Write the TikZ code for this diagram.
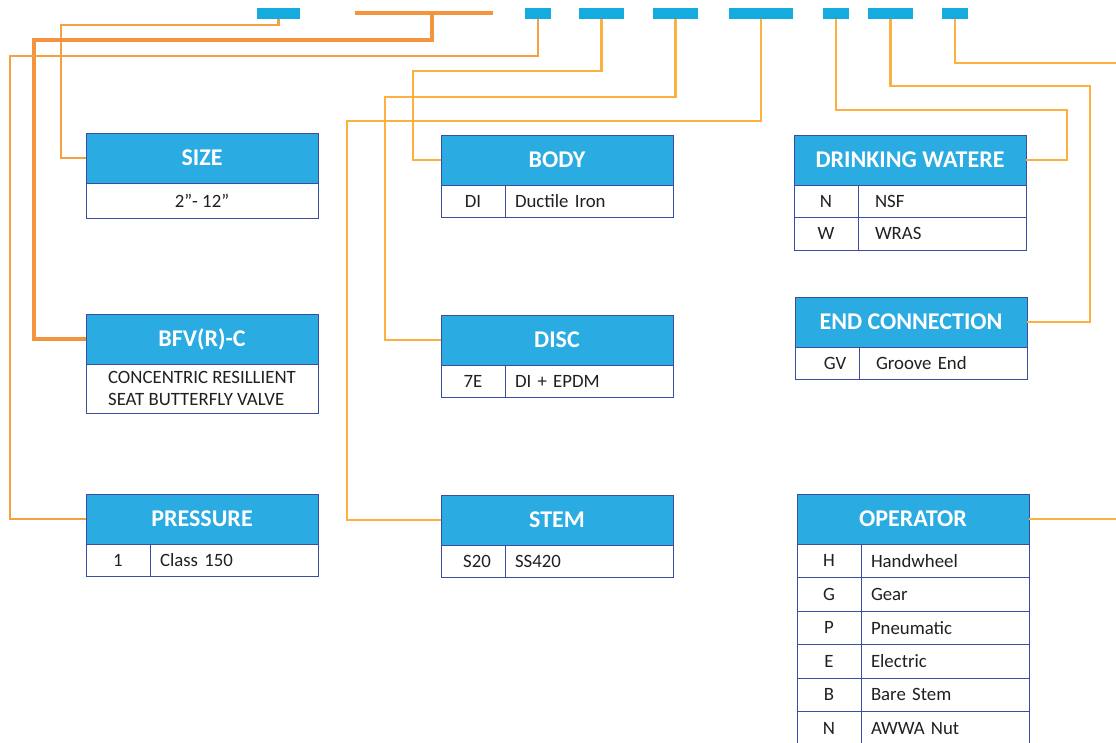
\documentclass[tikz,border=0pt]{standalone}
\usepackage{fontspec}
\setmainfont{Carlito}
\usetikzlibrary{positioning}

\definecolor{hdrblue}{HTML}{2AABE2}
\definecolor{barblue}{HTML}{16ABDF}
\definecolor{boxnavy}{HTML}{3A4D9E}
\definecolor{leadlight}{HTML}{FBB040}
\definecolor{leaddark}{HTML}{F5A142}
\definecolor{leadthick}{HTML}{F3943E}
\definecolor{celltext}{HTML}{231F20}

\tikzset{
  hdr/.style={draw=boxnavy, line width=0.9pt, fill=hdrblue, text=white,
    font=\fontsize{24}{28}\selectfont\bfseries, outer sep=0pt,
    minimum width=232pt, minimum height=50pt, inner sep=0pt, anchor=north west},
  cell/.style={draw=boxnavy, line width=0.9pt, fill=white, text=celltext,
    font=\fontsize{18.8}{22}\selectfont, outer sep=0pt,
    minimum height=33pt, inner sep=0pt, anchor=north west},
  code/.style={cell, minimum width=64pt},
  desc/.style={cell, text width=148pt, inner xsep=10pt, align=left},
  descwide/.style={cell, text width=134pt, inner xsep=17pt, align=left},
  bar/.style={fill=barblue, minimum height=11pt, inner sep=0pt},
  lead/.style={leadlight, line width=2.4pt},
  leadleft/.style={leaddark, line width=2.4pt},
  leadbold/.style={leadthick, line width=4pt},
}

\begin{document}
\begin{tikzpicture}[x=1pt,y=-1pt]
  \useasboundingbox (0,0) rectangle (1116,742);

  % code bars along the top
  \node[bar, minimum width=43pt] (b1) at (278.5,13.5) {};
  \node[bar, minimum width=26pt] (b2) at (538,13.5) {};
  \node[bar, minimum width=45pt] (b3) at (601.5,13.5) {};
  \node[bar, minimum width=45pt] (b4) at (675.5,13.5) {};
  \node[bar, minimum width=64pt] (b5) at (761,13.5) {};
  \node[bar, minimum width=26pt] (b6) at (836,13.5) {};
  \node[bar, minimum width=45pt] (b7) at (890.5,13.5) {};
  \node[bar, minimum width=26pt] (b8) at (955,13.5) {};
  \coordinate (t1) at (355,13);
  \coordinate (t2) at (493,13);
  \coordinate (tmid) at (432,13);
  \coordinate (edgeA) at (1116,63);

  % left column
  \node[hdr] (size) at (86,133) {\raisebox{-1.5pt}{SIZE}};
  \node[cell, minimum width=232pt, minimum height=35pt] (sizeval) at (size.south west) {2”- 12”};

  \node[hdr] (bfv) at (86,314) {\raisebox{-1.5pt}{BFV(R)-C}};
  \node[cell, minimum width=232pt, minimum height=49pt, align=left] (bfvval) at (bfv.south west)
    {CONCENTRIC RESILLIENT\\SEAT BUTTERFLY VALVE};

  \node[hdr] (pres) at (86,494) {\raisebox{-1.5pt}{PRESSURE}};
  \node[code, minimum height=32pt] (pres1c) at (pres.south west) {1};
  \node[desc, minimum height=32pt] (pres1d) at (pres1c.north east) {Class 150};

  % middle column
  \node[hdr] (body) at (441,135) {\raisebox{-1.5pt}{BODY}};
  \node[code, minimum height=32pt] (bodyc) at (body.south west) {DI};
  \node[desc, minimum height=32pt] (bodyd) at (bodyc.north east) {Ductile Iron};

  \node[hdr] (disc) at (441,315) {\raisebox{-1.5pt}{DISC}};
  \node[code, minimum height=32pt] (discc) at (disc.south west) {7E};
  \node[desc, minimum height=32pt] (discd) at (discc.north east) {DI + EPDM};

  \node[hdr] (stem) at (441,495) {\raisebox{-1.5pt}{STEM}};
  \node[code, minimum height=32pt] (stemc) at (stem.south west) {\hspace*{8pt}S20};
  \node[desc, minimum height=32pt] (stemd) at (stemc.north east) {SS420};

  % right column
  \node[hdr] (water) at (794,135) {\raisebox{-1.5pt}{DRINKING WATERE}};
  \node[code, minimum height=32.5pt] (waterNc) at (water.south west) {N};
  \node[descwide, minimum height=32.5pt] (waterNd) at (waterNc.north east) {NSF};
  \node[code, minimum height=32.5pt] (waterWc) at (waterNc.south west) {W};
  \node[descwide, minimum height=32.5pt] (waterWd) at (waterWc.north east) {WRAS};

  \node[hdr] (endc) at (795,297) {\raisebox{-1.5pt}{END CONNECTION}};
  \node[code, minimum height=32pt] (endGVc) at (endc.south west) {\hspace*{16pt}GV};
  \node[descwide, minimum height=32pt] (endGVd) at (endGVc.north east) {Groove End};

  \node[hdr] (oper) at (797,494) {\raisebox{-1.5pt}{OPERATOR}};
  \node[code, minimum height=33.5pt] (opHc) at (oper.south west) {H};
  \node[desc, minimum height=33.5pt] (opHd) at (opHc.north east) {Handwheel};
  \node[code, minimum height=33.5pt] (opGc) at (opHc.south west) {G};
  \node[desc, minimum height=33.5pt] (opGd) at (opGc.north east) {Gear};
  \node[code, minimum height=33.5pt] (opPc) at (opGc.south west) {P};
  \node[desc, minimum height=33.5pt] (opPd) at (opPc.north east) {Pneumatic};
  \node[code, minimum height=33.5pt] (opEc) at (opPc.south west) {E};
  \node[desc, minimum height=33.5pt] (opEd) at (opEc.north east) {Electric};
  \node[code, minimum height=33.5pt] (opBc) at (opEc.south west) {B};
  \node[desc, minimum height=33.5pt] (opBd) at (opBc.north east) {Bare Stem};
  \node[code, minimum height=33.5pt] (opNc) at (opBc.south west) {N};
  \node[desc, minimum height=33.5pt] (opNd) at (opNc.north east) {AWWA Nut};
  \coordinate (edgeB) at (1116,519);

  % leader lines
  \draw[leadleft] (b1.south) |- (61,25) |- (size.west);
  \draw[leadbold] (t1) -- (t2);
  \draw[leadbold] (tmid) |- (34,40) |- (bfv.west);
  \draw[leadleft] (b2.south) |- (10,56) |- (pres.west);
  \draw[lead] (b3.south) |- (413,71) |- (body.west);
  \draw[lead] (b4.south) |- (385,97) |- (disc.west);
  \draw[lead] (b5.south) |- (347,121) |- (stem.west);
  \draw[lead] (b6.south) |- (1067,110) |- (water.east);
  \draw[lead] (b7.south) |- (1090,86) |- (endc.east);
  \draw[lead] (b8.south) |- (edgeA);
  \draw[lead] (oper.east) -- (edgeB);
\end{tikzpicture}
\end{document}
